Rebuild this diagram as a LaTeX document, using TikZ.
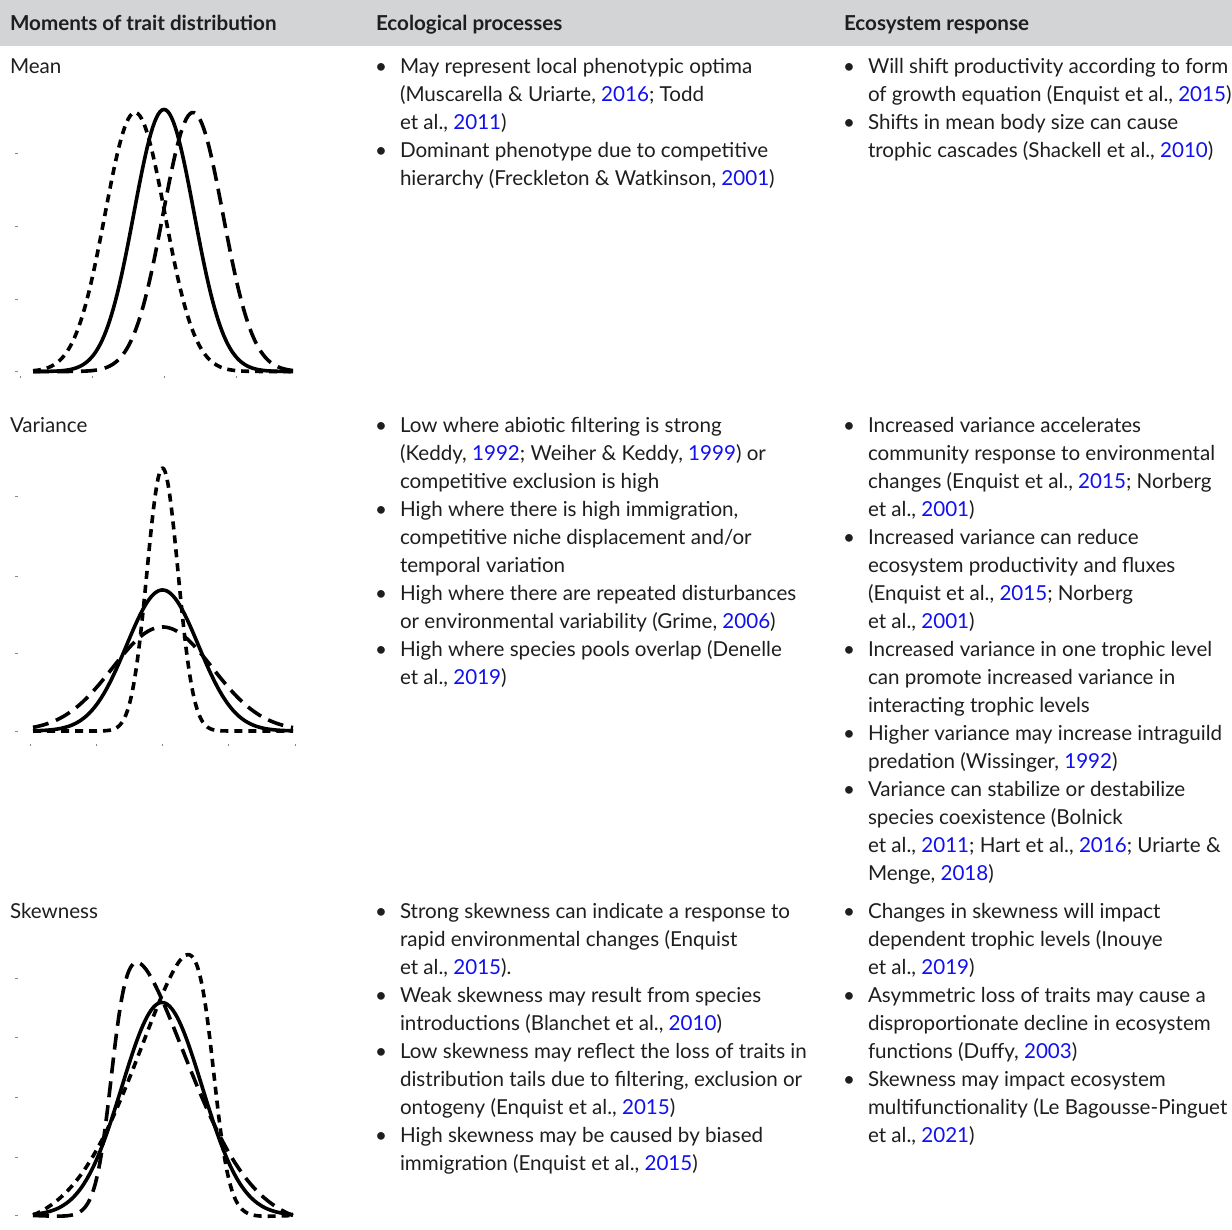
\documentclass[tikz,border=0pt]{standalone}
\usepackage{fontspec}
\setmainfont{Lato}
\definecolor{hdrc}{HTML}{D3D4D6}
\definecolor{txtc}{HTML}{1E1E1E}
\definecolor{yrc}{HTML}{1010F0}
\definecolor{tickc}{HTML}{888888}
\newcommand{\yr}[1]{\textcolor{yrc}{#1}}
\newcommand{\tl}[4]{\node[txt] (#1) at (#2,#3) {#4};}
\newcommand{\bu}[3]{\node[bul] (#1) at (#2,#3) {\textbullet};}
\begin{document}
\begin{tikzpicture}[x=1pt,y=-1pt,
  txt/.style={anchor=base west,inner sep=0pt,outer sep=0pt,text=txtc,font=\fontsize{20.6}{28}\selectfont},
  bul/.style={anchor=base,inner sep=0pt,outer sep=0pt,text=txtc,font=\fontsize{20.6}{28}\selectfont},
  hd/.style={anchor=base west,inner sep=0pt,outer sep=0pt,text=txtc,font=\bfseries\fontsize{20.6}{24}\selectfont},
  curve/.style={line width=3.6pt,black,line join=round},
  shortdash/.style={curve,dash pattern=on 8pt off 6pt},
  longdash/.style={curve,dash pattern=on 16pt off 8pt},
  tick/.style={tickc,line width=1pt}]
\useasboundingbox (0,0) rectangle (1232,1230);
\fill[hdrc] (0,0) rectangle (1232,46);
\node[hd] (h1) at (10,31) {Moments of trait distribution};
\node[hd] (h2) at (376,31) {Ecological processes};
\node[hd] (h3) at (844,31) {Ecosystem response};

% column 1 labels
\tl{mean}{10}{74}{Mean}
\tl{var}{10}{432.5}{Variance}
\tl{skew}{10}{918}{Skewness}

% ---- Mean row
\bu{mb1}{381}{74}
\tl{m1}{400}{74}{May represent local phenotypic optima}
\tl{m2}{400}{102}{(Muscarella \& Uriarte, \yr{2016}; Todd}
\tl{m3}{400}{130}{et al., \yr{2011})}
\bu{mb2}{381}{158}
\tl{m4}{400}{158}{Dominant phenotype due to competitive}
\tl{m5}{400}{186}{hierarchy (Freckleton \& Watkinson, \yr{2001})}

\bu{mr1}{849}{74}
\tl{r1}{868}{74}{Will shift productivity according to form}
\tl{r2}{868}{102}{of growth equation (Enquist et al., \yr{2015})}
\bu{mr2}{849}{130}
\tl{r3}{868}{130}{Shifts in mean body size can cause}
\tl{r4}{868}{158}{trophic cascades (Shackell et al., \yr{2010})}

% ---- Variance row
\bu{vb1}{381}{432.5}
\tl{v0}{400}{432.5}{Low where abiotic filtering is strong}
\tl{v1}{400}{460.5}{(Keddy, \yr{1992}; Weiher \& Keddy, \yr{1999}) or}
\tl{v2}{400}{488.5}{competitive exclusion is high}
\bu{vb2}{381}{516.5}
\tl{v3}{400}{516.5}{High where there is high immigration,}
\tl{v4}{400}{544.5}{competitive niche displacement and/or}
\tl{v5}{400}{572.5}{temporal variation}
\bu{vb3}{381}{600.5}
\tl{v6}{400}{600.5}{High where there are repeated disturbances}
\tl{v7}{400}{628.5}{or environmental variability (Grime, \yr{2006})}
\bu{vb4}{381}{656.5}
\tl{v8}{400}{656.5}{High where species pools overlap (Denelle}
\tl{v9}{400}{684.5}{et al., \yr{2019})}

\bu{vr1}{849}{432.5}
\tl{w0}{868}{432.5}{Increased variance accelerates}
\tl{w1}{868}{460.5}{community response to environmental}
\tl{w2}{868}{488.5}{changes (Enquist et al., \yr{2015}; Norberg}
\tl{w3}{868}{516.5}{et al., \yr{2001})}
\bu{vr2}{849}{544.5}
\tl{w4}{868}{544.5}{Increased variance can reduce}
\tl{w5}{868}{572.5}{ecosystem productivity and fluxes}
\tl{w6}{868}{600.5}{(Enquist et al., \yr{2015}; Norberg}
\tl{w7}{868}{628.5}{et al., \yr{2001})}
\bu{vr3}{849}{656.5}
\tl{w8}{868}{656.5}{Increased variance in one trophic level}
\tl{w9}{868}{684.5}{can promote increased variance in}
\tl{w10}{868}{712.5}{interacting trophic levels}
\bu{vr4}{849}{740.5}
\tl{w11}{868}{740.5}{Higher variance may increase intraguild}
\tl{w12}{868}{768.5}{predation (Wissinger, \yr{1992})}
\bu{vr5}{849}{796.5}
\tl{w13}{868}{796.5}{Variance can stabilize or destabilize}
\tl{w14}{868}{824.5}{species coexistence (Bolnick}
\tl{w15}{868}{852.5}{et al., \yr{2011}; Hart et al., \yr{2016}; Uriarte \&}
\tl{w16}{868}{880.5}{Menge, \yr{2018})}

% ---- Skewness row
\bu{sb1}{381}{918}
\tl{s0}{400}{918}{Strong skewness can indicate a response to}
\tl{s1}{400}{946}{rapid environmental changes (Enquist}
\tl{s2}{400}{974}{et al., \yr{2015}).}
\bu{sb2}{381}{1002}
\tl{s3}{400}{1002}{Weak skewness may result from species}
\tl{s4}{400}{1030}{introductions (Blanchet et al., \yr{2010})}
\bu{sb3}{381}{1058}
\tl{s5}{400}{1058}{Low skewness may reflect the loss of traits in}
\tl{s6}{400}{1086}{distribution tails due to filtering, exclusion or}
\tl{s7}{400}{1114}{ontogeny (Enquist et al., \yr{2015})}
\bu{sb4}{381}{1142}
\tl{s8}{400}{1142}{High skewness may be caused by biased}
\tl{s9}{400}{1170}{immigration (Enquist et al., \yr{2015})}

\bu{sr1}{849}{918}
\tl{t0}{868}{918}{Changes in skewness will impact}
\tl{t1}{868}{946}{dependent trophic levels (Inouye}
\tl{t2}{868}{974}{et al., \yr{2019})}
\bu{sr2}{849}{1002}
\tl{t3}{868}{1002}{Asymmetric loss of traits may cause a}
\tl{t4}{868}{1030}{disproportionate decline in ecosystem}
\tl{t5}{868}{1058}{functions (Duffy, \yr{2003})}
\bu{sr3}{849}{1086}
\tl{t6}{868}{1086}{Skewness may impact ecosystem}
\tl{t7}{868}{1114}{multifunctionality (Le Bagousse-Pinguet}
\tl{t8}{868}{1142}{et al., \yr{2021})}

% ---- Mean plot
\foreach \yy in {154,227,300,372} \draw[tick] (15,\yy) -- (18,\yy);
\foreach \xx in {20.7,92,164,236} \draw[tick] (\xx,376) -- (\xx,378);
\draw[shortdash] plot[domain=33:293,samples=140] ({\x},{371.5-259*exp(-min(9,0.5*((\x-135)/30)^2))});
\draw[longdash] plot[domain=33:293,samples=140] ({\x},{371.5-259*exp(-min(9,0.5*((\x-193)/30)^2))});
\draw[curve] plot[domain=33:293,samples=140] ({\x},{371.5-262*exp(-min(9,0.5*((\x-164)/30)^2))});

% ---- Variance plot
\foreach \yy in {496.7,576,653.3,731} \draw[tick] (15,\yy) -- (18,\yy);
\foreach \xx in {30,96,162.3,228.7,295} \draw[tick] (\xx,744) -- (\xx,746);
\draw[shortdash] plot[domain=33:293,samples=180] ({\x},{731-263*exp(-min(9,0.5*((\x-162.5)/15.5)^2))});
\draw[longdash] plot[domain=33:293,samples=140] ({\x},{731-104*exp(-min(9,0.5*((\x-162.5)/50)^2))});
\draw[curve] plot[domain=33:293,samples=140] ({\x},{731-141*exp(-min(9,0.5*((\x-162.5)/36)^2))});

% ---- Skewness plot
\foreach \yy in {978.3,1037.7,1097.7,1157.7,1215.5} \draw[tick] (15,\yy) -- (18,\yy);
\draw[longdash] plot[domain=33:293,samples=180] ({\x},{1215.5-257*exp(-0.5*((\x-111.5)/70)^2)/(1+exp(max(-9,min(9,-8.51*(\x-111.5)/70))))/0.8955+10*(\x-33)/260});
\draw[shortdash] plot[domain=33:293,samples=180] ({\x},{1215.5-265*exp(-0.5*((213.5-\x)/70)^2)/(1+exp(max(-9,min(9,-8.51*(213.5-\x)/70))))/0.8955+10.3*(293-\x)/260});
\draw[curve] plot[domain=33:293,samples=140] ({\x},{1215.5-213*exp(-min(9,0.5*((\x-162)/40)^2))});
\end{tikzpicture}
\end{document}
